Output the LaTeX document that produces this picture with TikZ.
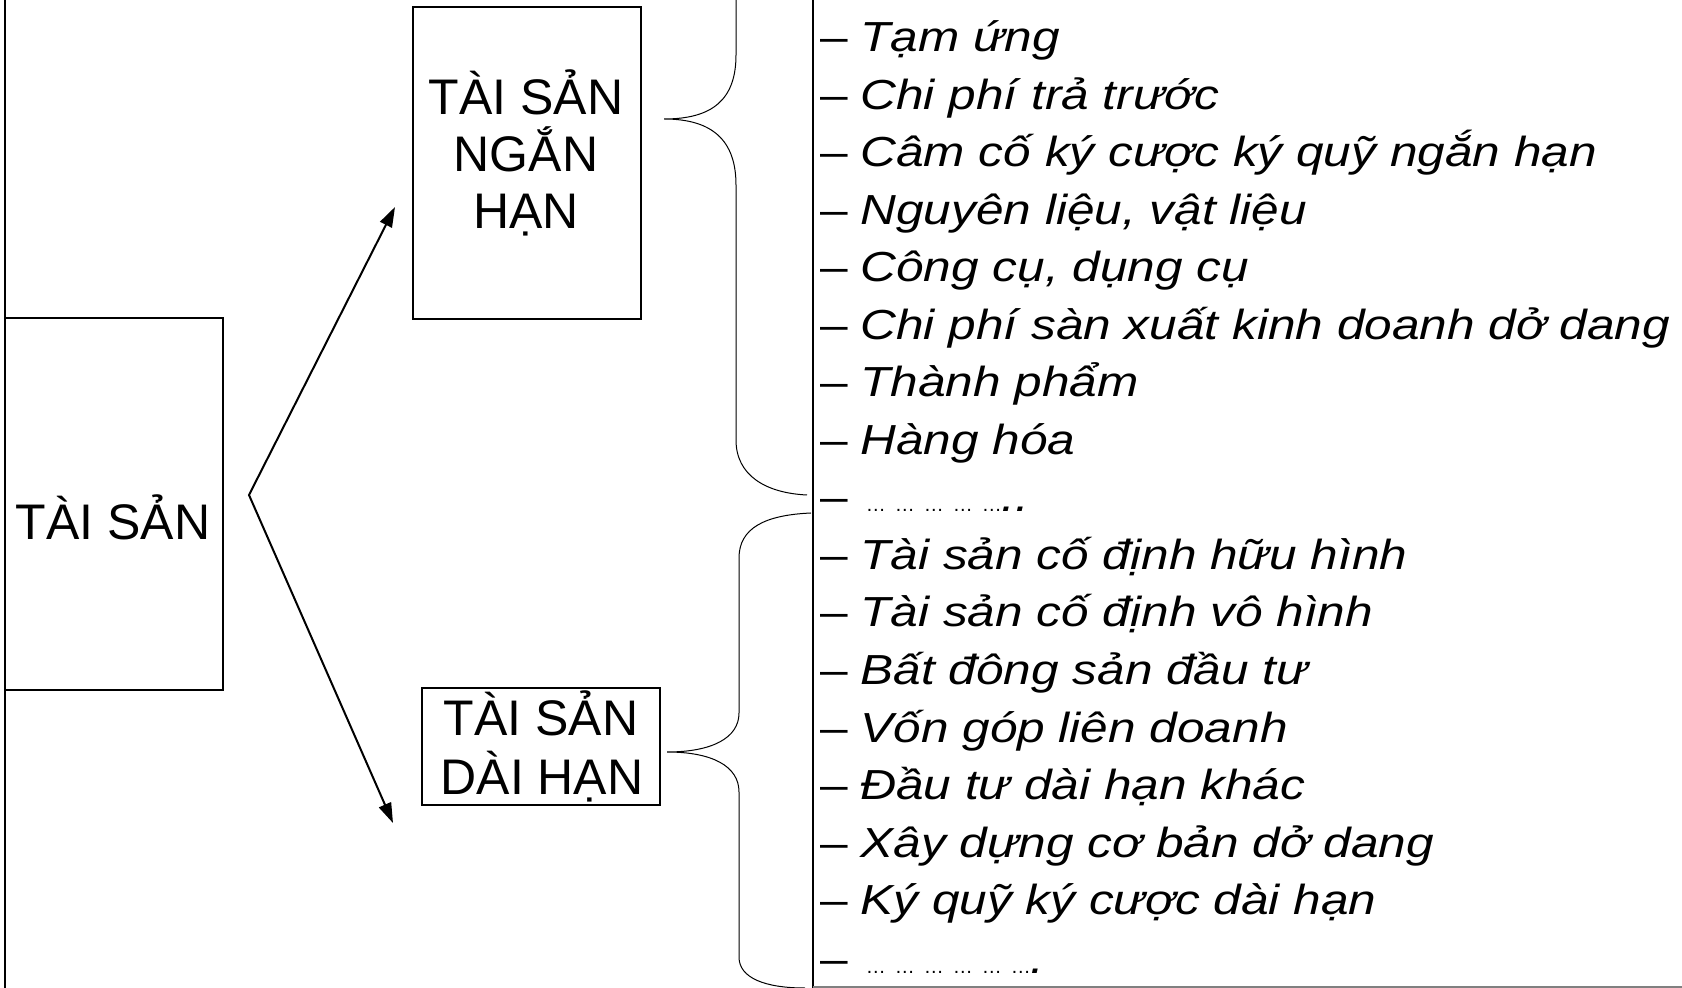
\documentclass[tikz,border=0pt]{standalone}
\usepackage{fontspec}
\setmainfont{Liberation Sans}
\newfontfamily\listfont{Liberation Sans}[FakeStretch=1.18]
\usetikzlibrary{arrows.meta}
\newcommand{\itm}[3]{{\listfont\fontsize{21}{24}\selectfont\raisebox{#1}{–}}\hspace{#2}{\listfont\itshape\fontsize{21}{24}\selectfont #3}}
\newcommand{\el}{{\normalfont\fontsize{10}{12}\selectfont …}\hspace{4.5pt}}
\begin{document}
\begin{tikzpicture}[x=0.5pt,y=-0.5pt,
  boxline/.style={draw, line width=1pt, inner sep=0pt},
  boxlbl/.style={font=\fontsize{25}{28}\selectfont, anchor=base, inner sep=0pt},
  arr/.style={line width=1pt, line join=miter, {Triangle[length=10pt,width=6.5pt]}-{Triangle[length=10pt,width=6.5pt]}},
  bracepath/.style={line width=0.5pt},
  rulev/.style={line width=1pt},
  item/.style={anchor=base west, inner sep=0pt}
]
\useasboundingbox (0,0) rectangle (1682,988);

% frame lines
\coordinate (lt) at (5,0);
\coordinate (lb) at (5,988);
\coordinate (mt) at (813,0);
\coordinate (mb) at (813,988);
\coordinate (br) at (1682,987);
\coordinate (bl) at (813,987);
\draw[rulev] (lt) -- (lb);
\draw[rulev] (mt) -- (mb);
\draw[line width=0.6pt, gray] (bl) -- (br);

% boxes
\node[boxline, minimum width=109pt, minimum height=186pt] (ts) at (114,504) {};
\node[boxline, minimum width=114pt, minimum height=156pt] (nh) at (527,163) {};
\node[boxline, minimum width=119pt, minimum height=58.5pt] (dh) at (541,746.5) {};

\node[boxlbl] (tsl) at (113,540) {TÀI SẢN};
\node[boxlbl] (nh1) at (526,115) {TÀI SẢN};
\node[boxlbl] (nh2) at (526,172) {NGẮN};
\node[boxlbl] (nh3) at (526,229) {HẠN};
\node[boxlbl] (dh1) at (541,736) {TÀI SẢN};
\node[boxlbl] (dh2) at (542,794) {DÀI HẠN};

% arrows
\coordinate (apex) at (249,495);
\coordinate (tipA) at (395,207);
\coordinate (tipB) at (393,823);
\draw[arr] (tipA) -- (apex) -- (tipB);

% braces
\draw[bracepath] (736,0) -- (736,55) .. controls (736,100) and (712,119) .. (664,119)
  .. controls (712,119) and (736,140) .. (736,185) -- (736,440)
  .. controls (736,475) and (765,493) .. (807,495);
\draw[bracepath] (811,513) .. controls (765,515) and (739,528) .. (739,558) -- (739,713)
  .. controls (739,738) and (712,752) .. (667,752)
  .. controls (712,752) and (739,766) .. (739,792) -- (739,957)
  .. controls (739,978) and (765,988) .. (805,988);

% list
\foreach \t [count=\i from 0] in {Tạm ứng, Chi phí trả trước, Câm cố ký cược ký quỹ ngắn hạn,
  {Nguyên liệu, vật liệu}, {Công cụ, dụng cụ}, Chi phí sàn xuất kinh doanh dở dang,
  Thành phẩm, Hàng hóa}
  \node[item] (a\i) at (820, 52+\i*57.5) {\itm{0pt}{6.3pt}{\t}};
\node[item] (a8) at (820, 512) {\itm{0pt}{9pt}{\el\el\el\el\el\hspace{-4.5pt}..}};
\foreach \t [count=\i from 9] in {Tài sản cố định hữu hình, Tài sản cố định vô hình,
  Bất đông sản đầu tư, Vốn góp liên doanh, Đầu tư dài hạn khác,
  Xây dựng cơ bản dở dang, Ký quỹ ký cược dài hạn}
  \node[item] (b\i) at (820, 52+\i*57.5) {\itm{0pt}{6.3pt}{\t}};
\node[item] (b16) at (820, 973) {\itm{0pt}{9pt}{\el\el\el\el\el\el\hspace{-4.5pt}.}};
\end{tikzpicture}
\end{document}
